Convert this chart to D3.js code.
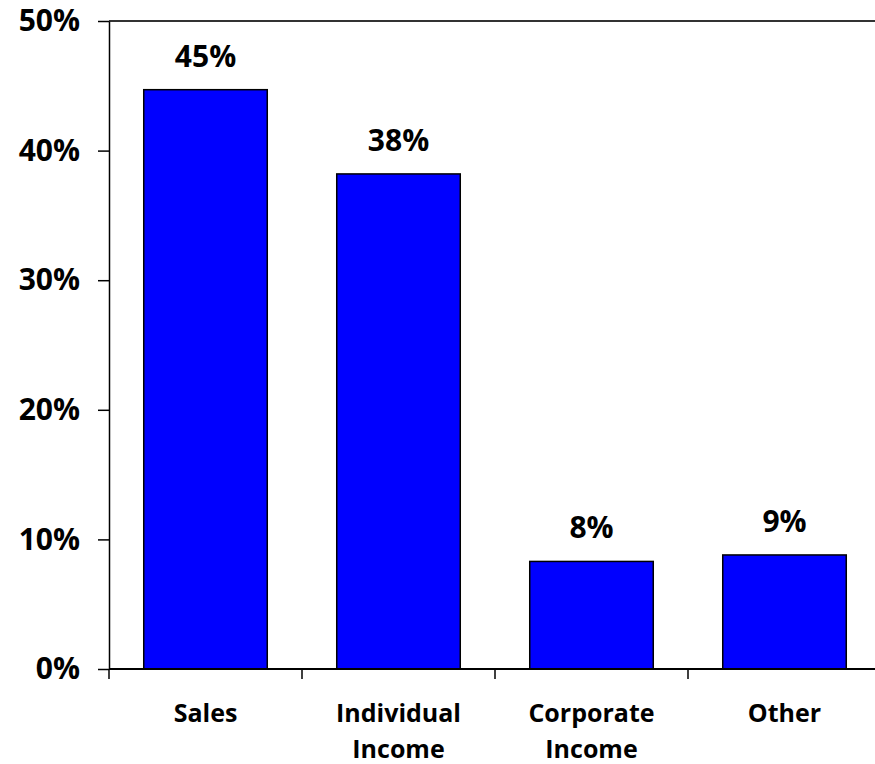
<!DOCTYPE html>
<html>
<head>
<meta charset="utf-8">
<script src="https://cdn.jsdelivr.net/npm/d3@7"></script>
<style>
  body { margin: 0; background: #fff; }
  text { font-family: "Open Sans", "Noto Sans", sans-serif; font-weight: bold; fill: #000; }
</style>
</head>
<body>
<script>
//Data
var categories = ["Sales", "Individual Income", "Corporate Income", "Other"];
var values = [0.447, 0.382, 0.083, 0.088];
var valueLabels = ["45%", "38%", "8%", "9%"];
var yTicks = [0, 0.1, 0.2, 0.3, 0.4, 0.5];

//Size and margins
var svgwidth = 875;
var svgheight = 764;
var margin = { top: 21, right: -6, bottom: 95, left: 109 };
var width = svgwidth - margin.left - margin.right;
var height = svgheight - margin.top - margin.bottom;

var svg = d3.select("body")
    .append("svg")
    .attr("width", svgwidth)
    .attr("height", svgheight);

var chartGroup = svg.append("g")
    .attr("transform", `translate(${margin.left}, ${margin.top})`);

//Scales
var pad = 0.36;
var xScale = d3.scaleBand()
    .domain(categories)
    .range([0, width])
    .paddingInner(pad)
    .paddingOuter(pad / 2);

var yScale = d3.scaleLinear()
    .domain([0, 0.5])
    .range([height, 0]);

//Top border line
chartGroup.append("line")
    .attr("x1", 0).attr("x2", svgwidth)
    .attr("y1", 0).attr("y2", 0)
    .attr("stroke", "#333")
    .attr("stroke-width", 2);

//Left axis
var leftAxis = d3.axisLeft(yScale)
    .tickValues(yTicks)
    .tickFormat(d3.format(".0%"))
    .tickSize(11)
    .tickSizeOuter(0)
    .tickPadding(18);

var yAxisG = chartGroup.append("g").call(leftAxis);
yAxisG.select(".domain").attr("stroke", "#000").attr("stroke-width", 1.5);
yAxisG.selectAll(".tick line").attr("stroke", "#000").attr("stroke-width", 1.5);
yAxisG.selectAll(".tick text")
    .attr("font-size", "30px")
    .attr("font-family", "'Open Sans', sans-serif")
    .attr("font-weight", "bold")
    .attr("fill", "#000");

//Bars
chartGroup.selectAll("rect.bar")
    .data(values)
    .enter()
    .append("rect")
    .attr("class", "bar")
    .attr("x", (d, i) => xScale(categories[i]))
    .attr("width", xScale.bandwidth())
    .attr("y", d => yScale(d))
    .attr("height", d => height - yScale(d))
    .attr("fill", "#0000ff")
    .attr("stroke", "#000")
    .attr("stroke-width", 1.5);

//Value labels
chartGroup.selectAll("text.value")
    .data(values)
    .enter()
    .append("text")
    .attr("class", "value")
    .attr("x", (d, i) => xScale(categories[i]) + xScale.bandwidth() / 2)
    .attr("y", d => yScale(d) - 23)
    .attr("text-anchor", "middle")
    .attr("font-size", "30px")
    .text((d, i) => valueLabels[i]);

//Bottom axis line
chartGroup.append("line")
    .attr("x1", 0).attr("x2", svgwidth)
    .attr("y1", height).attr("y2", height)
    .attr("stroke", "#000")
    .attr("stroke-width", 2);

//Category boundary ticks
var step = xScale.step();
var boundaries = categories.map(c => xScale(c) - step * pad / 2);
chartGroup.selectAll("line.xtick")
    .data(boundaries)
    .enter()
    .append("line")
    .attr("class", "xtick")
    .attr("x1", d => d).attr("x2", d => d)
    .attr("y1", height).attr("y2", height + 10)
    .attr("stroke", "#000")
    .attr("stroke-width", 1.5);

//Category labels
var catLabels = chartGroup.selectAll("text.cat")
    .data(categories)
    .enter()
    .append("text")
    .attr("class", "cat")
    .attr("text-anchor", "middle")
    .attr("font-size", "25px")
    .attr("transform", d => `translate(${xScale(d) + xScale.bandwidth() / 2}, ${height + 53})`);

catLabels.selectAll("tspan")
    .data(d => d.split(" "))
    .enter()
    .append("tspan")
    .attr("x", 0)
    .attr("y", (d, i) => i * 36)
    .text(d => d);
</script>
</body>
</html>
